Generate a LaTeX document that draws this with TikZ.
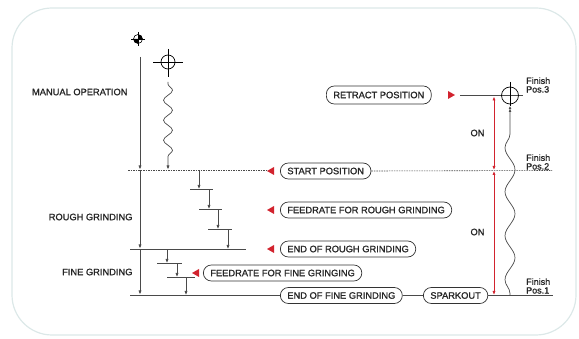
\documentclass[tikz,border=0pt]{standalone}
\usepackage{fontspec}
\setmainfont{Liberation Sans}
\newfontfamily\medfont[FakeBold=1.2]{Liberation Sans}
\usetikzlibrary{arrows.meta,decorations.pathmorphing}
\definecolor{ln}{HTML}{4A4A4A}
\definecolor{rd}{HTML}{D2232E}
\definecolor{bg}{HTML}{DCE8E8}
\newcommand{\labfont}{\medfont\fontsize{9.3}{10}\selectfont}
\newcommand{\finfont}{\medfont\fontsize{9}{8.6}\selectfont}
\begin{document}
\begin{tikzpicture}[x=1pt,y=-1pt,
  line/.style={draw=ln,line width=0.7pt},
  arr/.style={line,-{Latex[length=4pt,width=3.2pt]}},
  box/.style={draw=black!80,line width=0.7pt,rounded corners=8pt,minimum height=16pt,
     inner xsep=7pt,inner ysep=0pt,font=\labfont,text=black!85,anchor=west,fill=white},
  lab/.style={font=\labfont,text=black!85},
  fin/.style={font=\finfont,text=black!85,align=left,anchor=west,inner sep=0pt},
  dsh/.style={draw=ln,line width=0.6pt,dash pattern=on 1.5pt off 1pt},
  ptr/.pic={\fill[rd] (0,0) -- (7,-4) -- (7,4) -- cycle;},
  red2/.style={draw=rd,line width=0.8pt,{Latex[length=4pt,width=3.2pt]}-{Latex[length=4pt,width=3.2pt]}}]
\useasboundingbox (0,0) rectangle (579,339);
% background
\draw[bg,line width=1.2pt,rounded corners=40pt] (12,8) rectangle (576,335);

% top-left symbol
\coordinate (sym) at (138,39);
\fill[black] (sym) -- ++(-4.5,0) arc[start angle=180,end angle=90,radius=4.5] -- cycle;
\fill[black] (sym) -- ++(4.5,0) arc[start angle=0,end angle=-90,radius=4.5] -- cycle;
\draw[black,line width=0.6pt] (sym) circle[radius=4.5];
\draw[black,line width=0.6pt] ([xshift=-7pt]sym) -- ([xshift=7pt]sym);
\draw[black,line width=0.6pt] ([yshift=7pt]sym) -- ([yshift=-7pt]sym);

% left crosshair
\coordinate (ch) at (168,62);
\draw[black,line width=0.7pt] (ch) circle[radius=7];
\draw[black,line width=0.7pt] (153,62) -- (183,62) (168,49) -- (168,77);

% labels
\node[lab,anchor=east] (mo) at (131,92) {MANUAL OPERATION};
\node[lab,anchor=east] (rg) at (136,217) {ROUGH GRINDING};
\node[lab,anchor=east] (fg) at (136,272) {FINE GRINDING};

% main vertical
\draw[arr] (140,57) -- (140,169.5);
\draw[arr] (140,170) -- (140,248.5);
\draw[arr] (140,249) -- (140,294.5);

% left wave
\draw[line,-{Latex[length=4pt,width=3.2pt]},decorate,
  decoration={snake,segment length=20pt,amplitude=4.5pt,pre length=2pt,post length=8pt}]
  (168,82) -- (168,169.5);

% dashed start line
\node[box] (sp) at (280,171) {START POSITION};
\draw[dsh] (128,170.5) -- (266,170.5);
\draw[dsh] (sp.east) -- (552,170.5);
\pic at (267,171) {ptr};

% rough staircase
\draw[arr] (199,171) -- (199,189);
\draw[line] (190,189.5) -- (213,189.5);
\draw[arr] (209,189.5) -- (209,209);
\draw[line] (199,209.5) -- (222,209.5);
\draw[arr] (218,209.5) -- (218,229);
\draw[line] (208,229.5) -- (232,229.5);
\draw[arr] (228,229.5) -- (228,249);
\draw[line] (130,249.5) -- (246,249.5);

% fine staircase
\draw[arr] (167,249.5) -- (167,263);
\draw[line] (157,263.5) -- (182,263.5);
\draw[arr] (177,263.5) -- (177,277);
\draw[line] (167,277.5) -- (195,277.5);
\draw[arr] (186,277.5) -- (186,295);

% nodes
\node[box] (fr) at (280,210) {FEEDRATE FOR ROUGH GRINDING};
\pic at (267,210) {ptr};
\node[box] (er) at (280,249) {END OF ROUGH GRINDING};
\pic at (267,249) {ptr};
\node[box] (ff) at (203,273) {FEEDRATE FOR FINE GRINGING};
\pic at (192,273) {ptr};
\node[box] (ef) at (280,295.5) {END OF FINE GRINDING};
\node[box] (sk) at (423,295.5) {SPARKOUT};
\draw[line] (130,295.5) -- (ef.west);
\draw[line] (ef.east) -- (sk.west);
\draw[line] (sk.east) -- (553,295.5);

% retract
\node[box,minimum height=18pt] (rp) at (326,95) {RETRACT POSITION};
\pic[xscale=-1] at (455,95) {ptr};
\coordinate (rc) at (510,95.5);
\draw[line] (460,95.5) -- (523,95.5);
\draw[black,line width=0.7pt] (rc) circle[radius=8.5];
\draw[black,line width=0.7pt] (510,82) -- (510,106);

% right wave
\draw[line,-{Latex[length=3pt,width=3pt]Latex[length=3pt,width=3pt]},decorate,
  decoration={snake,segment length=44pt,amplitude=5pt,pre length=2pt,post length=20pt}]
  (510,295.5) -- (510,106);

% red double arrows
\draw[red2] (494,96.5) -- (494,170);
\draw[red2] (494,171) -- (494,295);
\node[lab,anchor=east] (on1) at (488,133) {ON};
\node[lab,anchor=east] (on2) at (488,232) {ON};

% finish labels
\node[fin] (f3) at (526,85) {Finish\\Pos.3};
\node[fin] (f2) at (526,162) {Finish\\Pos.2};
\node[fin] (f1) at (526,286) {Finish\\Pos.1};
\end{tikzpicture}
\end{document}
